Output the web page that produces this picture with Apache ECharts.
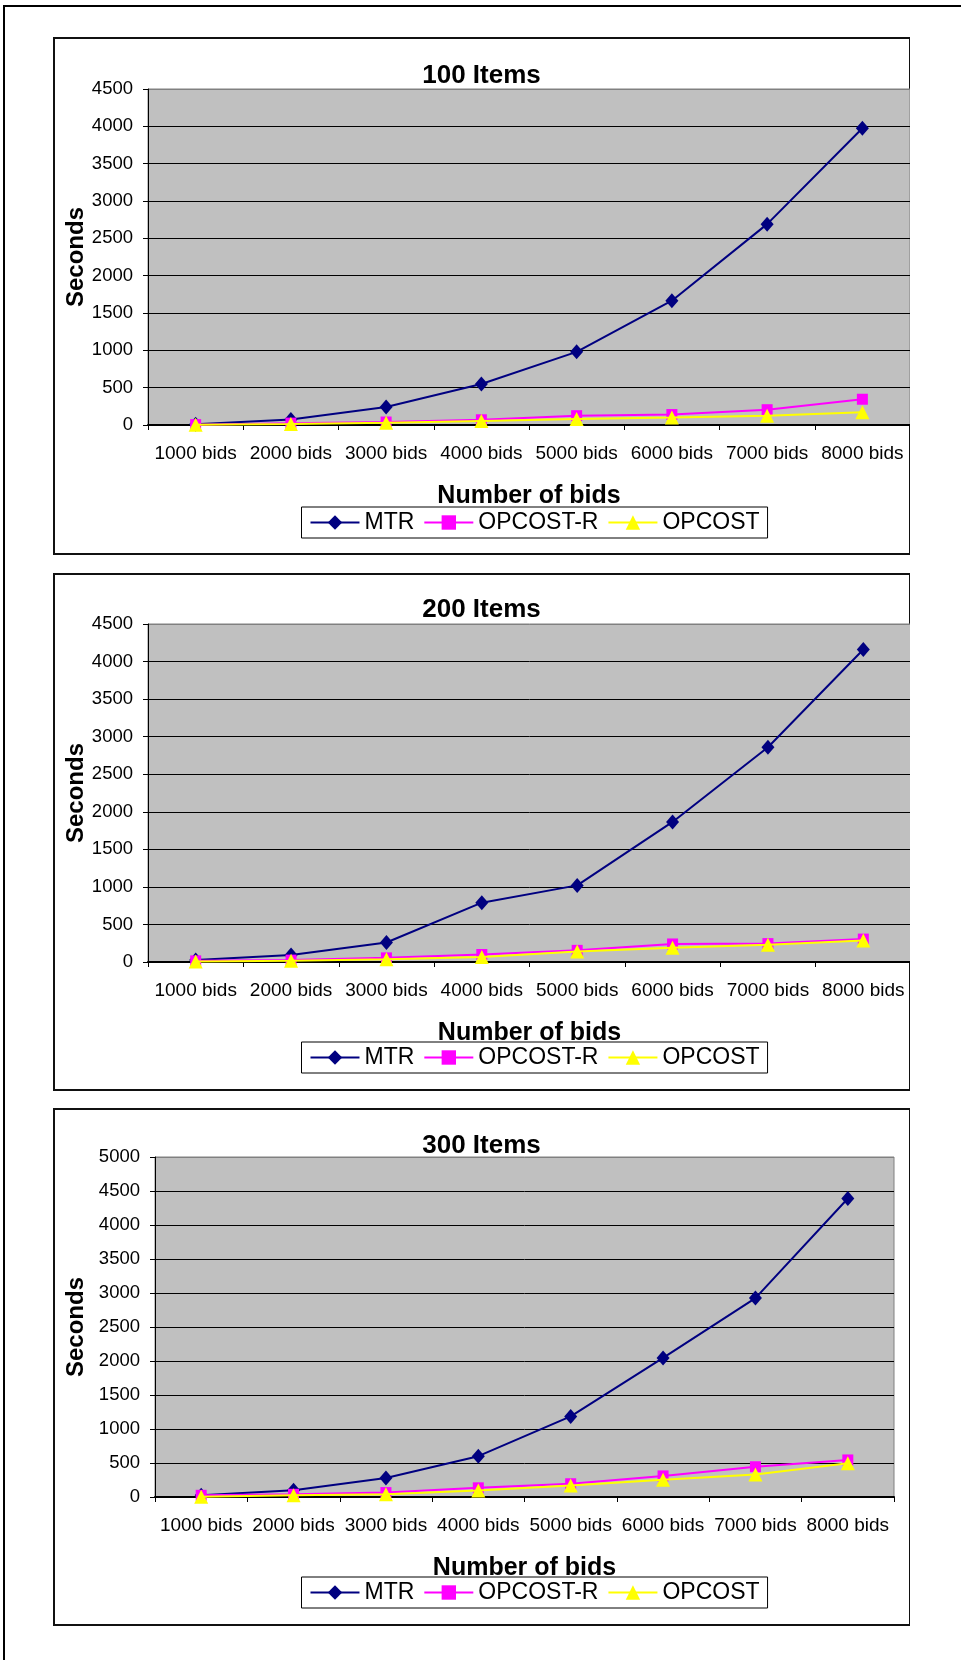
<!DOCTYPE html>
<html>
<head>
<meta charset="utf-8">
<script src="https://cdn.jsdelivr.net/npm/echarts@6/dist/echarts.min.js"></script>
<style>
  html, body { margin: 0; padding: 0; background: #fff; }
  #page { position: relative; width: 961px; height: 1660px; overflow: hidden; }
  #frame { position: absolute; left: 3px; top: 5px; width: 2000px; height: 2000px;
           border-left: 2px solid #000; border-top: 2px solid #000; }
  .box { position: absolute; left: 53px; width: 857px; box-sizing: border-box;
         border: 2px solid #111; border-right-width: 1.5px; background: #fff; }
  .chart { position: absolute; left: -2px; top: -2px; width: 857px; }
</style>
</head>
<body>
<div id="page">
  <div id="frame"></div>
  <div class="box" id="box1" style="top:37px;height:518px;"><div class="chart" id="c1" style="height:518px;"></div></div>
  <div class="box" id="box2" style="top:573px;height:518px;"><div class="chart" id="c2" style="height:518px;"></div></div>
  <div class="box" id="box3" style="top:1108px;height:518px;"><div class="chart" id="c3" style="height:518px;"></div></div>
</div>
<script>
// Categories along the x axis
const categories = ['1000 bids', '2000 bids', '3000 bids', '4000 bids',
                    '5000 bids', '6000 bids', '7000 bids', '8000 bids'];
const seriesNames = ['MTR', 'OPCOST-R', 'OPCOST'];

// Running times in seconds, 100 items
const mtr100      = [10, 75, 240, 550, 980, 1665, 2690, 3975];
const opcostR100  = [5, 25, 40, 70, 125, 140, 205, 345];
const opcost100   = [3, 12, 30, 55, 80, 100, 125, 172];

// Running times in seconds, 200 items
const mtr200      = [25, 92, 260, 790, 1020, 1865, 2860, 4160];
const opcostR200  = [15, 25, 55, 100, 155, 240, 245, 305];
const opcost200   = [5, 15, 35, 65, 140, 190, 230, 285];

// Running times in seconds, 300 items
const mtr300      = [25, 100, 280, 600, 1185, 2045, 2925, 4390];
const opcostR300  = [25, 40, 65, 135, 195, 310, 445, 545];
const opcost300   = [5, 25, 40, 95, 170, 255, 330, 495];

// Chart titles and y-axis extents
const titles = ['100 Items', '200 Items', '300 Items'];
const yMax = [4500, 4500, 5000];
const yStep = 500;

const FONT = 'Arial, "Liberation Sans", sans-serif';

function buildChart(el, title, max, data, layout) {
  const chart = echarts.init(document.getElementById(el), null, { renderer: 'canvas' });
  const nLines = max / yStep + 1;
  // black gridlines, top one grey to blend with the plot border
  const gridColors = [];
  for (let i = 0; i < nLines; i++) gridColors.push(i === nLines - 1 ? '#808080' : '#000000');

  const colors = ['#000080', '#FF00FF', '#FFFF00'];
  const symbols = ['diamond', 'rect', 'triangle'];
  const sizes = [[13, 15], [11, 11], [14, 14]];

  chart.setOption({
    animation: false,
    textStyle: { fontFamily: FONT, color: '#000' },
    title: {
      text: title, left: 'center', top: layout.titleTop,
      textStyle: { fontFamily: FONT, fontSize: 26, fontWeight: 'bold', color: '#000' }
    },
    grid: {
      left: layout.left, top: layout.top, right: layout.right, height: layout.height,
      containLabel: false, outerBoundsMode: 'none',
      show: true, backgroundColor: '#C0C0C0', borderColor: '#808080', borderWidth: 1
    },
    legend: {
      data: seriesNames, left: 248.5, top: layout.legendTop,
      orient: 'horizontal', itemWidth: 49, itemHeight: 18, itemGap: 9,
      padding: [4, 8, 4, 8], borderColor: '#000', borderWidth: 1, backgroundColor: '#fff',
      textStyle: { fontFamily: FONT, fontSize: 23, color: '#000' }
    },
    xAxis: {
      type: 'category', data: categories, boundaryGap: true,
      name: 'Number of bids', nameLocation: 'middle', nameGap: 59, nameMoveOverlap: false,
      nameTextStyle: { fontFamily: FONT, fontSize: 25, fontWeight: 'bold', color: '#000' },
      axisLine: { lineStyle: { color: '#000', width: 2 } },
      axisTick: { show: true, length: 5, alignWithLabel: false, lineStyle: { color: '#000' } },
      axisLabel: { fontFamily: FONT, fontSize: 19, color: '#000', margin: 19, interval: 0 }
    },
    yAxis: {
      type: 'value', min: 0, max: max, interval: yStep,
      name: 'Seconds', nameLocation: 'middle', nameGap: layout.nameGap, nameMoveOverlap: false,
      nameTextStyle: { fontFamily: FONT, fontSize: 24, fontWeight: 'bold', color: '#000' },
      axisLine: { show: true, lineStyle: { color: '#000', width: 1 } },
      axisTick: { show: true, length: 5, lineStyle: { color: '#000' } },
      axisLabel: { fontFamily: FONT, fontSize: 18.5, color: '#000', margin: layout.labelMargin,
                   formatter: (v) => String(v) },
      splitLine: { show: true, lineStyle: { color: gridColors, width: 1 } }
    },
    series: seriesNames.map((name, i) => ({
      name: name, type: 'line', data: data[i],
      symbol: symbols[i], symbolSize: sizes[i], showSymbol: true,
      lineStyle: { color: colors[i], width: 2 },
      itemStyle: { color: colors[i], borderColor: colors[i], borderWidth: 0 },
      z: 3 + i
    }))
  });
}

buildChart('c1', titles[0], yMax[0], [mtr100, opcostR100, opcost100],
  { left: 95, top: 52, right: 0, height: 336, titleTop: 21, legendTop: 470, nameGap: 60, labelMargin: 15 });
buildChart('c2', titles[1], yMax[1], [mtr200, opcostR200, opcost200],
  { left: 95, top: 51, right: -1, height: 338, titleTop: 19, legendTop: 469, nameGap: 60, labelMargin: 15 });
buildChart('c3', titles[2], yMax[2], [mtr300, opcostR300, opcost300],
  { left: 102, top: 49, right: 16, height: 340, titleTop: 20, legendTop: 469, nameGap: 67, labelMargin: 15 });
</script>
</body>
</html>
